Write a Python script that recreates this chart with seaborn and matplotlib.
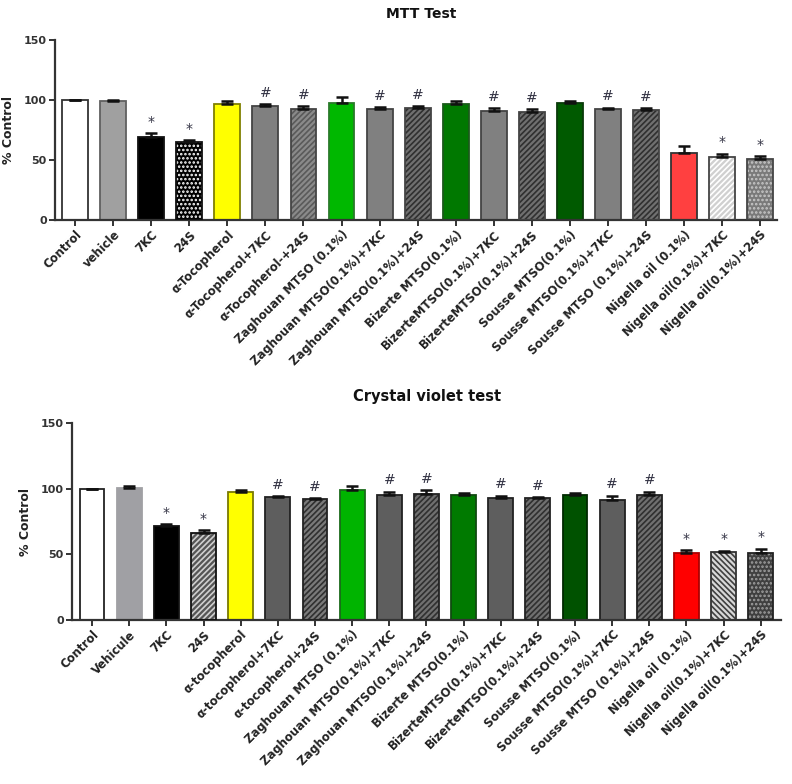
import numpy as np
import pandas as pd
import matplotlib
matplotlib.use("Agg")
import matplotlib.pyplot as plt
import seaborn as sns
from matplotlib.patches import Rectangle

# ---------------- data ----------------
mtt_labels = ["Control", "vehicle", "7KC", "24S", "α-Tocopherol", "α-Tocopherol+7KC",
              "α-Tocopherol-+24S", "Zaghouan MTSO (0.1%)", "Zaghouan MTSO(0.1%)+7KC",
              "Zaghouan MTSO(0.1%)+24S", "Bizerte MTSO(0.1%)", "BizerteMTSO(0.1%)+7KC",
              "BizerteMTSO(0.1%)+24S", "Sousse MTSO(0.1%)", "Sousse MTSO(0.1%)+7KC",
              "Sousse MTSO (0.1%)+24S", "Nigella oil (0.1%)", "Nigella oil(0.1%)+7KC",
              "Nigella oil(0.1%)+24S"]
mtt_values = [100, 99.4, 69.4, 64.7, 97.0, 94.7, 92.5, 97.8, 92.8, 93.1,
              97.0, 90.6, 89.7, 97.8, 92.5, 91.9, 55.6, 52.2, 50.5]
mtt_sem = [0, 0.8, 3.3, 2.0, 2.0, 2.0, 2.2, 4.4, 1.2, 1.9,
           2.0, 2.4, 2.5, 1.2, 1.1, 1.4, 6.1, 3.1, 2.8]
mtt_marks = ["", "", "*", "*", "", "#", "#", "", "#", "#",
             "", "#", "#", "", "#", "#", "", "*", "*"]

cv_labels = ["Control", "Vehicule", "7KC", "24S", "α-tocopherol", "α-tocopherol+7KC",
             "α-tocopherol+24S", "Zaghouan MTSO (0.1%)", "Zaghouan MTSO(0.1%)+7KC",
             "Zaghouan MTSO(0.1%)+24S", "Bizerte MTSO(0.1%)", "BizerteMTSO(0.1%)+7KC",
             "BizerteMTSO(0.1%)+24S", "Sousse MTSO(0.1%)", "Sousse MTSO(0.1%)+7KC",
             "Sousse MTSO (0.1%)+24S", "Nigella oil (0.1%)", "Nigella oil(0.1%)+7KC",
             "Nigella oil(0.1%)+24S"]
cv_values = [100, 100.6, 71.4, 66.6, 97.6, 93.5, 92.0, 99.3, 95.3, 96.0,
             95.0, 92.7, 92.7, 95.0, 91.2, 95.0, 51.3, 52.1, 51.3]
cv_sem = [0, 1.5, 1.5, 1.7, 1.7, 0.8, 0.7, 2.8, 2.3, 3.0,
          1.8, 1.8, 0.8, 1.8, 3.3, 2.6, 1.8, 0.7, 2.8]
cv_marks = ["", "", "*", "*", "", "#", "#", "", "#", "#",
            "", "#", "#", "", "#", "#", "*", "*", "*"]

# ---------------- styles ----------------
mtt_faces = ["#ffffff", "#a0a0a0", "#000000", "#000000", "#ffff00", "#808080", "#8a8a8a",
             "#00b800", "#808080", "#707070", "#007800", "#808080", "#707070",
             "#005a00", "#808080", "#707070", "#ff4040", "#d0d0d0", "#7a7a7a"]
mtt_hatch = [None, None, None, "....", None, None, "//////", None, None, "//////",
             None, None, "//////", None, None, "//////", None, "//////", "...."]
mtt_hcol = [None, None, None, "#ffffff", None, None, "#5a5a5a", None, None, "#303030",
            None, None, "#303030", None, None, "#303030", None, "#ffffff", "#c8c8c8"]
mtt_edges = ["#333333", "#606060", "#111111", "#111111", "#808000", "#444444", "#444444",
             "#2a7a2a", "#444444", "#444444", "#1a5a1a", "#444444", "#444444",
             "#0a3a0a", "#444444", "#444444", "#333333", "#444444", "#444444"]

cv_faces = ["#ffffff", "#a0a0a4", "#000000", "#555555", "#ffff00", "#5e5e5e", "#7a7a7a",
            "#00b400", "#5e5e5e", "#707070", "#007a00", "#5e5e5e", "#707070",
            "#005200", "#5e5e5e", "#707070", "#ff0000", "#d8d8d8", "#404040"]
cv_hatch = [None, None, None, "//////", None, None, "//////", None, None, "//////",
            None, None, "//////", None, None, "//////", None, "\\\\\\\\\\\\", "...."]
cv_hcol = [None, None, None, "#d0d0d0", None, None, "#303030", None, None, "#303030",
           None, None, "#303030", None, None, "#303030", None, "#404040", "#a0a0a0"]
cv_edges = ["#222222", "#a0a0a4", "#111111", "#111111", "#7a7a00", "#222222", "#222222",
            "#1a6a1a", "#222222", "#222222", "#104a10", "#222222", "#222222",
            "#002a00", "#222222", "#222222", "#aa0000", "#333333", "#222222"]

sns.set_theme(style="white")
plt.rcParams['font.family'] = ['DejaVu Sans']
plt.rcParams['hatch.linewidth'] = 1.2

fig = plt.figure(figsize=(7.92, 7.84), dpi=100)
ax1 = fig.add_axes([0.0694, 0.7194, 0.912, 0.2296])
ax2 = fig.add_axes([0.0909, 0.2092, 0.895, 0.2509])


def draw(ax, labels, values, sem, marks, faces, hatches, hcols, edges, width):
    df = pd.DataFrame({"label": labels, "value": values})
    sns.barplot(data=df, x="label", y="value", hue="label", palette=dict(zip(labels, faces)),
                legend=False, errorbar=None, saturation=1, width=width, ax=ax, zorder=2)
    n = len(labels)
    for i, p in enumerate(ax.patches[:n]):
        if hatches[i]:
            p.set_edgecolor(hcols[i])
            p.set_hatch(hatches[i])
            p.set_linewidth(0)
            outline = Rectangle(p.get_xy(), p.get_width(), p.get_height(), fill=False,
                                edgecolor=edges[i], linewidth=1.3, zorder=3)
            ax.add_patch(outline)
        else:
            p.set_edgecolor(edges[i])
            p.set_linewidth(1.3)
    x = np.arange(n)
    v = np.array(values)
    s = np.array(sem)
    ax.errorbar(x, v, yerr=[np.zeros(n), s], fmt="none", ecolor="#111111",
                elinewidth=1.8, capsize=4, capthick=1.8, zorder=4)
    for i in range(n):
        if marks[i]:
            ax.text(i, v[i] + s[i] + 3.5, marks[i], ha="center", va="bottom",
                    fontsize=10, color="#333344", family="DejaVu Sans")
    ax.set_ylim(0, 150)
    ax.set_yticks([0, 50, 100, 150])
    ax.set_xlim(-0.53, n - 1 + 0.45)
    ax.set_xlabel("")
    ax.set_ylabel("% Control", fontsize=9, fontweight="bold", color="#222222", labelpad=6)
    for sp in ["top", "right"]:
        ax.spines[sp].set_visible(False)
    for sp in ["left", "bottom"]:
        ax.spines[sp].set_color("#333333")
        ax.spines[sp].set_linewidth(1.6)
    ax.tick_params(axis="both", which="major", direction="out", length=4, width=1.4,
                   color="#333333", bottom=True, left=True, pad=2)
    ax.set_xticks(x)
    ax.set_xticklabels(labels, rotation=45, ha="right", rotation_mode="anchor",
                       fontsize=8.4, fontweight="bold", color="#222222")
    for t in ax.get_yticklabels():
        t.set_fontsize(8)
        t.set_fontweight("bold")
        t.set_color("#333333")


draw(ax1, mtt_labels, mtt_values, mtt_sem, mtt_marks, mtt_faces, mtt_hatch, mtt_hcol,
     mtt_edges, 0.68)
draw(ax2, cv_labels, cv_values, cv_sem, cv_marks, cv_faces, cv_hatch, cv_hcol,
     cv_edges, 0.67)
ax2.set_xlim(-0.54, len(cv_labels) - 1 + 0.54)

fig.text(0.532, 0.982, "MTT Test", ha="center", va="center", fontsize=10,
         fontweight="bold", color="#111111")
fig.text(0.539, 0.494, "Crystal violet test", ha="center", va="center", fontsize=10.5,
         fontweight="bold", color="#111111")

fig.savefig("out.png", dpi=100, facecolor="white")
